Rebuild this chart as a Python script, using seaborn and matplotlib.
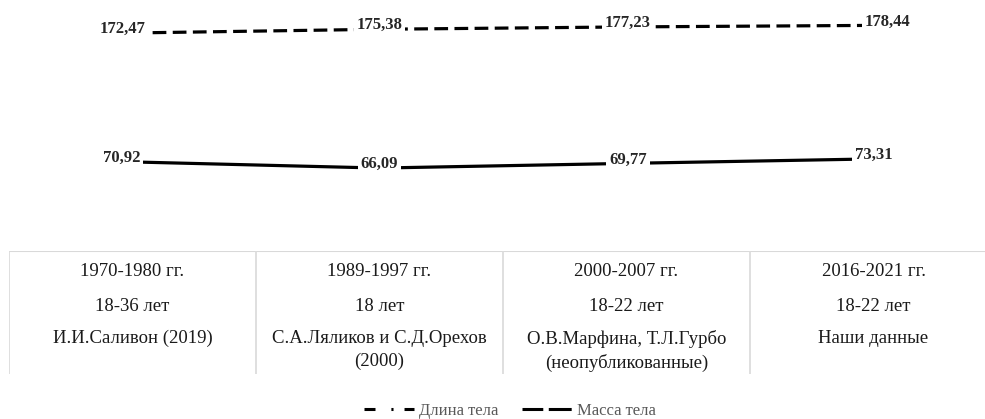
import matplotlib
matplotlib.use('Agg')
import matplotlib.pyplot as plt
from matplotlib.lines import Line2D
import pandas as pd
import seaborn as sns

# данные
periods = ['1970-1980 гг.', '1989-1997 гг.', '2000-2007 гг.', '2016-2021 гг.']
ages = ['18-36 лет', '18 лет', '18-22 лет', '18-22 лет']
authors = ['И.И.Саливон (2019)', 'С.А.Ляликов и С.Д.Орехов\n(2000)',
           'О.В.Марфина, Т.Л.Гурбо\n(неопубликованные)', 'Наши данные']
length = [172.47, 175.38, 177.23, 178.44]
mass = [70.92, 66.09, 69.77, 73.31]
series_names = ['Длина тела', 'Масса тела']

df = pd.DataFrame({
    'pos': list(range(len(periods))) * 2,
    'value': length + mass,
    'series': [series_names[0]] * len(length) + [series_names[1]] * len(mass),
})

sns.set_style('white')
plt.rcParams['font.family'] = ['Liberation Serif', 'DejaVu Serif']

W, H = 985, 419
fig = plt.figure(figsize=(W / 100, H / 100), dpi=100)
left, right = 9, 997

# график
ax = fig.add_axes([left / W, (H - 252) / H, (right - left) / W, 254 / H])
sns.lineplot(data=df, x='pos', y='value', style='series',
             dashes={series_names[0]: (4.3, 2.0), series_names[1]: ''},
             color='black', linewidth=2.3, legend=False, ax=ax)
ax.set_xlim(-0.5, 3.5)
ax.set_ylim(0, 200)
ax.axis('off')

# подписи значений
offsets = {series_names[0]: [-7, 0, 1, 10], series_names[1]: [-8, 0, 1, 0]}
for name, vals in zip(series_names, [length, mass]):
    for i, v in enumerate(vals):
        ax.annotate(f'{v:.2f}'.replace('.', ','), (i, v),
                    xytext=(offsets[name][i], 0), textcoords='offset points',
                    ha='center', va='baseline', fontsize=12, fontweight='bold',
                    bbox=dict(fc='white', ec='none', pad=2))

# таблица под графиком
tax = fig.add_axes([left / W, (H - 374) / H, (right - left) / W, 123 / H])
tax.set_xlim(-0.5, 3.5)
tax.set_ylim(123, 0)
tax.axis('off')
tax.axhline(0.5, color='#d9d9d9', lw=1.5)
for xb in [-0.5, 0.5, 1.5, 2.5]:
    tax.axvline(xb, color='#dcdcdc', lw=1.3)
for row_y, row in zip([22, 57, 89], [periods, ages, authors]):
    for i, txt in enumerate(row):
        tax.text(i, row_y - 10, txt, ha='center', va='top', fontsize=13.5,
                 linespacing=1.42, color='#1a1a1a')

# легенда
handles = [
    Line2D([], [], color='black', lw=2.2, linestyle=(0, (3.6, 5.2, 0.7, 3.6, 3.9, 9))),
    Line2D([], [], color='black', lw=2.2, linestyle=(0, (6.8, 1.8, 7.5, 9))),
]
leg = fig.legend(handles, series_names, loc='center', ncol=2, frameon=False,
                 bbox_to_anchor=(510 / W, 1 - 411 / H), fontsize=12,
                 handlelength=3, handletextpad=0.3, columnspacing=1.45)
for t in leg.get_texts():
    t.set_color('#595959')

fig.savefig('out.png', dpi=100)
plt.close(fig)
